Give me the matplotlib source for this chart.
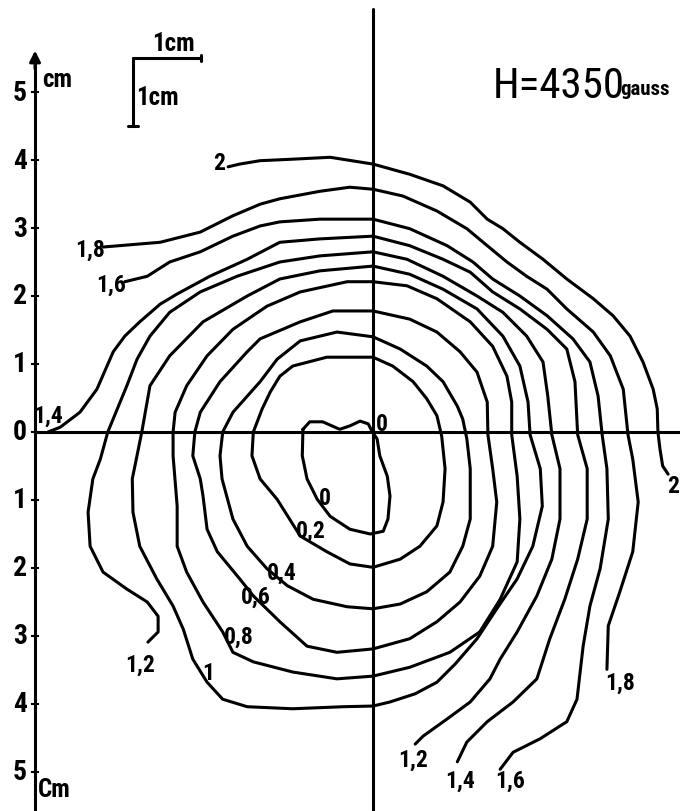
import matplotlib
matplotlib.use("Agg")
import matplotlib.pyplot as plt
from matplotlib import font_manager as fm

# ---------------- data (cm) ----------------
lev_0_x = [-1.03, -0.93, -0.74, -0.49, -0.34, -0.19, -0.07, -0.01, 0.06, 0.10, 0.21, 0.25, 0.22, 0.15, -0.04, -0.34, -0.63, -0.82, -0.97, -1.04, -1.03]
lev_0_y = [0.04, 0.15, 0.15, 0.04, 0.09, 0.16, 0.12, 0.0, -0.10, -0.35, -0.65, -0.94, -1.28, -1.46, -1.50, -1.43, -1.24, -0.99, -0.69, -0.35, 0.04]

lev_02_x = [0, 0.29, 0.59, 0.79, 0.94, 1.01, 1.06, 1.03, 0.94, 0.69, 0.40, 0, -0.34, -0.68, -1.07, -1.41, -1.66, -1.78, -1.76, -1.63, -1.51, -1.37, -1.18, -0.68, 0]
lev_02_y = [1.10, 0.97, 0.74, 0.49, 0.24, -0.06, -0.54, -1.03, -1.38, -1.68, -1.87, -1.99, -1.94, -1.76, -1.53, -0.99, -0.69, -0.35, 0, 0.34, 0.59, 0.82, 0.97, 1.10, 1.10]

lev_04_x = [0, 0.40, 0.79, 1.03, 1.24, 1.32, 1.38, 1.43, 1.43, 1.32, 1.13, 0.79, 0.40, 0, -0.38, -0.88, -1.26, -1.56, -1.85, -2.06, -2.22, -2.25, -2.21, -2.06, -1.66, -1.41, -1.07, -0.53, 0]
lev_04_y = [1.40, 1.22, 0.97, 0.74, 0.38, 0.19, -0.10, -0.54, -1.28, -1.68, -2.06, -2.35, -2.53, -2.60, -2.57, -2.46, -2.26, -2.01, -1.68, -1.28, -0.69, -0.35, 0, 0.29, 0.74, 1.07, 1.34, 1.47, 1.40]

lev_06_x = [0, 0.54, 0.94, 1.28, 1.53, 1.68, 1.69, 1.76, 1.82, 1.76, 1.57, 1.28, 0.94, 0.54, 0, -0.53, -0.97, -1.37, -1.76, -1.96, -2.29, -2.44, -2.50, -2.54, -2.65, -2.62, -2.54, -2.25, -1.85, -1.66, -1.07, -0.59, 0]
lev_06_y = [1.78, 1.66, 1.47, 1.18, 0.88, 0.44, -0.04, -0.54, -1.03, -1.68, -2.12, -2.50, -2.79, -3.04, -3.19, -3.24, -3.15, -2.79, -2.41, -2.16, -1.76, -1.43, -0.94, -0.69, -0.35, 0, 0.29, 0.74, 1.18, 1.37, 1.62, 1.78, 1.78]

lev_08_x = [0, 0.50, 0.94, 1.43, 1.76, 1.97, 2.04, 2.04, 2.12, 2.16, 2.12, 1.87, 1.57, 1.13, 0.54, 0, -0.53, -1.18, -1.76, -2.06, -2.21, -2.50, -2.74, -2.88, -2.88, -2.94, -2.94, -2.91, -2.74, -2.44, -2.06, -1.56, -1.07, -0.38, 0]
lev_08_y = [2.21, 2.15, 1.96, 1.62, 1.26, 0.82, 0.44, -0.04, -0.65, -1.28, -1.91, -2.46, -2.94, -3.24, -3.46, -3.59, -3.63, -3.53, -3.38, -3.24, -2.94, -2.50, -2.06, -1.68, -1.09, -0.35, 0, 0.29, 0.68, 1.12, 1.51, 1.85, 2.06, 2.21, 2.21]

lev_10_x = [0, 0.54, 1.03, 1.53, 1.91, 2.16, 2.28, 2.31, 2.46, 2.49, 2.35, 2.12, 1.82, 1.53, 1.21, 0.94, 0.62, 0.25, 0, -0.44, -1.18, -1.85, -2.21, -2.44, -2.65, -2.79, -2.94, -3.18, -3.43, -3.53, -3.54, -3.40, -3.28, -2.99, -2.50, -1.85, -1.37, -0.78, 0]
lev_10_y = [2.44, 2.32, 2.10, 1.81, 1.41, 0.97, 0.44, -0.04, -0.54, -1.09, -1.68, -2.16, -2.60, -3.04, -3.41, -3.68, -3.85, -3.97, -4.03, -4.04, -4.07, -4.04, -3.93, -3.68, -3.34, -2.90, -2.56, -2.16, -1.68, -1.18, -0.69, 0, 0.68, 1.12, 1.62, 2.00, 2.25, 2.37, 2.44]

lev_12_x = [0.62, 0.74, 1.09, 1.43, 1.72, 1.87, 2.12, 2.41, 2.63, 2.75, 2.75, 2.63, 2.57, 2.50, 2.26, 1.91, 1.53, 1.03, 0.50, 0, -0.78, -1.37, -2.00, -2.54, -2.99, -3.28, -3.47, -3.62, -3.76, -3.90, -4.01, -4.12, -4.19, -4.16, -3.97, -3.62, -3.32, -3.16, -3.16, -3.31]
lev_12_y = [-4.59, -4.47, -4.22, -3.97, -3.63, -3.34, -2.94, -2.41, -1.87, -1.28, -0.54, -0.04, 0.53, 1.03, 1.41, 1.76, 2.00, 2.29, 2.54, 2.65, 2.59, 2.50, 2.29, 2.06, 1.76, 1.41, 1.07, 0.68, 0.34, 0, -0.40, -0.69, -1.18, -1.68, -2.06, -2.31, -2.50, -2.71, -2.94, -3.09]

lev_14_x = [1.24, 1.38, 1.68, 2.06, 2.41, 2.60, 2.82, 3.01, 3.15, 3.15, 3.01, 2.97, 2.85, 2.56, 2.16, 1.76, 1.43, 1.03, 0.54, 0, -0.78, -1.37, -1.85, -2.40, -2.88, -3.13, -3.43, -3.65, -3.82, -4.06, -4.31, -4.60, -4.78]
lev_14_y = [-4.85, -4.56, -4.26, -3.97, -3.63, -3.04, -2.46, -1.87, -1.28, -0.54, -0.04, 0.74, 1.22, 1.51, 1.81, 2.06, 2.35, 2.54, 2.74, 2.88, 2.84, 2.79, 2.54, 2.29, 2.03, 1.88, 1.62, 1.41, 1.18, 0.63, 0.29, 0.07, 0]

lev_16_x = [1.87, 2.06, 2.46, 2.85, 3.00, 3.09, 3.19, 3.34, 3.46, 3.44, 3.37, 3.31, 3.19, 2.94, 2.56, 2.16, 1.76, 1.47, 1.09, 0.54, 0, -0.78, -1.37, -1.66, -2.06, -2.54, -2.99, -3.32, -3.65]
lev_16_y = [-4.96, -4.71, -4.51, -4.26, -3.93, -3.15, -2.56, -2.01, -1.28, -0.54, -0.04, 0.53, 1.03, 1.37, 1.71, 2.00, 2.25, 2.50, 2.74, 2.99, 3.13, 3.13, 3.09, 3.03, 2.88, 2.65, 2.50, 2.29, 2.21]

lev_18_x = [3.44, 3.46, 3.63, 3.82, 3.90, 3.82, 3.75, 3.68, 3.49, 3.24, 2.85, 2.56, 2.26, 1.97, 1.68, 1.38, 0.94, 0.44, 0, -0.34, -0.78, -1.37, -1.66, -2.06, -2.54, -3.13, -3.97]
lev_18_y = [-3.49, -2.85, -2.35, -1.76, -1.03, -0.40, -0.04, 0.63, 1.12, 1.47, 1.81, 2.10, 2.29, 2.50, 2.74, 2.99, 3.25, 3.47, 3.57, 3.60, 3.54, 3.43, 3.35, 3.18, 2.94, 2.79, 2.72]

lev_20_x = [4.34, 4.26, 4.22, 4.19, 4.18, 4.12, 3.97, 3.78, 3.53, 3.24, 2.85, 2.50, 2.16, 1.91, 1.68, 1.43, 1.03, 0.54, 0, -0.63, -1.22, -1.66, -1.96, -2.13]
lev_20_y = [-0.62, -0.50, -0.25, 0, 0.34, 0.63, 1.03, 1.41, 1.71, 1.96, 2.25, 2.54, 2.79, 2.99, 3.13, 3.38, 3.62, 3.79, 3.94, 4.04, 4.01, 3.99, 3.94, 3.90]

# contour labels: text, x, y (cm)
label_texts = ["0", "0", "0,2", "0,4", "0,6", "0,8", "1", "1,2", "1,4", "1,6", "1,8", "2",
               "1,2", "1,4", "1,6", "1,8", "2"]
label_x = [0.13, -0.71, -0.91, -1.34, -1.72, -1.97, -2.43, -3.43, -4.78, -3.85, -4.16, -2.26,
           0.59, 1.28, 2.01, 3.63, 4.42]
label_y = [0.13, -0.96, -1.44, -2.06, -2.41, -3.00, -3.53, -3.41, 0.25, 2.18, 2.69, 3.97,
           -4.81, -5.12, -5.12, -3.68, -0.78]

# axis ticks (cm) and their labels
tick_values = [5, 4, 3, 2, 1, 0, -1, -2, -3, -4, -5]
tick_labels = ["5", "4", "3", "2", "1", "0", "1", "2", "3", "4", "5"]

field_text = "H=4350"
field_unit = "gauss"

# ---------------- fonts ----------------
names = {f.name for f in fm.fontManager.ttflist}
FONT = ["DejaVu Sans"]
for cand in ["Liberation Sans Narrow", "Roboto Condensed", "Open Sans Condensed", "Roboto"]:
    if cand in names:
        FONT = [cand, "DejaVu Sans"]
        break

# ---------------- figure ----------------
PX = 68.0  # pixels per cm in the reference
fig = plt.figure(figsize=(6.8, 8.12), dpi=100)
ax = fig.add_axes([0, 0, 1, 1])
ax.set_xlim(-373 / PX, 307 / PX)
ax.set_ylim(-379 / PX, 433 / PX)
ax.axis("off")

LW = 2.2
style = dict(color="black", lw=LW, solid_capstyle="round", solid_joinstyle="round")

contours = [(lev_0_x, lev_0_y), (lev_02_x, lev_02_y), (lev_04_x, lev_04_y),
            (lev_06_x, lev_06_y), (lev_08_x, lev_08_y), (lev_10_x, lev_10_y),
            (lev_12_x, lev_12_y), (lev_14_x, lev_14_y), (lev_16_x, lev_16_y),
            (lev_18_x, lev_18_y), (lev_20_x, lev_20_y)]
for cx, cy in contours:
    ax.plot(cx, cy, **style)

# axes lines
x_axis_left = -4.97
ax.plot([x_axis_left, 307 / PX], [0, 0], **style)            # horizontal axis
ax.plot([0, 0], [6.22, -379 / PX], **style)                  # vertical line through centre
ax.plot([x_axis_left, x_axis_left], [5.45, -379 / PX], **style)  # left scale axis
ax.annotate("", xy=(x_axis_left, 5.65), xytext=(x_axis_left, 5.3),
            arrowprops=dict(arrowstyle="-|>", color="black", lw=LW, mutation_scale=16))

for tv, tl in zip(tick_values, tick_labels):
    ax.plot([x_axis_left - 0.04, x_axis_left + 0.04], [tv, tv], color="black", lw=1.5)
    ax.text(-5.19, tv, tl, family=FONT, fontsize=20, fontweight="bold",
            ha="center", va="center")

ax.text(-4.86, 5.19, "cm", family=FONT, fontsize=18, fontweight="bold", ha="left", va="center")
ax.text(-4.93, -5.25, "Cm", family=FONT, fontsize=18, fontweight="bold", ha="left", va="center")

# scale bar 1 cm x 1 cm
sb_x0, sb_y0 = -3.53, 5.50
ax.plot([sb_x0, sb_x0 + 1.0], [sb_y0, sb_y0], **style)
ax.plot([sb_x0, sb_x0], [sb_y0, sb_y0 - 1.0], **style)
ax.plot([sb_x0 + 1.0, sb_x0 + 1.0], [sb_y0 - 0.04, sb_y0 + 0.04], **style)
ax.plot([sb_x0 - 0.07, sb_x0 + 0.07], [sb_y0 - 1.0, sb_y0 - 1.0], **style)
ax.text(sb_x0 + 0.6, sb_y0 + 0.04, "1cm", family=FONT, fontsize=18, fontweight="bold",
        ha="center", va="bottom")
ax.text(sb_x0 + 0.05, sb_y0 - 0.58, "1cm", family=FONT, fontsize=18, fontweight="bold",
        ha="left", va="center")

# field strength
ax.text(1.76, 4.93, field_text, family=FONT, fontsize=31, ha="left", va="baseline")
ax.text(3.63, 4.97, field_unit, family=FONT, fontsize=15, fontweight="bold",
        ha="left", va="baseline")

# contour labels
for t, lx, ly in zip(label_texts, label_x, label_y):
    ax.text(lx, ly, t, family=FONT, fontsize=17, fontweight="bold",
            ha="center", va="center")

fig.savefig("out.png", dpi=100, facecolor="white")
